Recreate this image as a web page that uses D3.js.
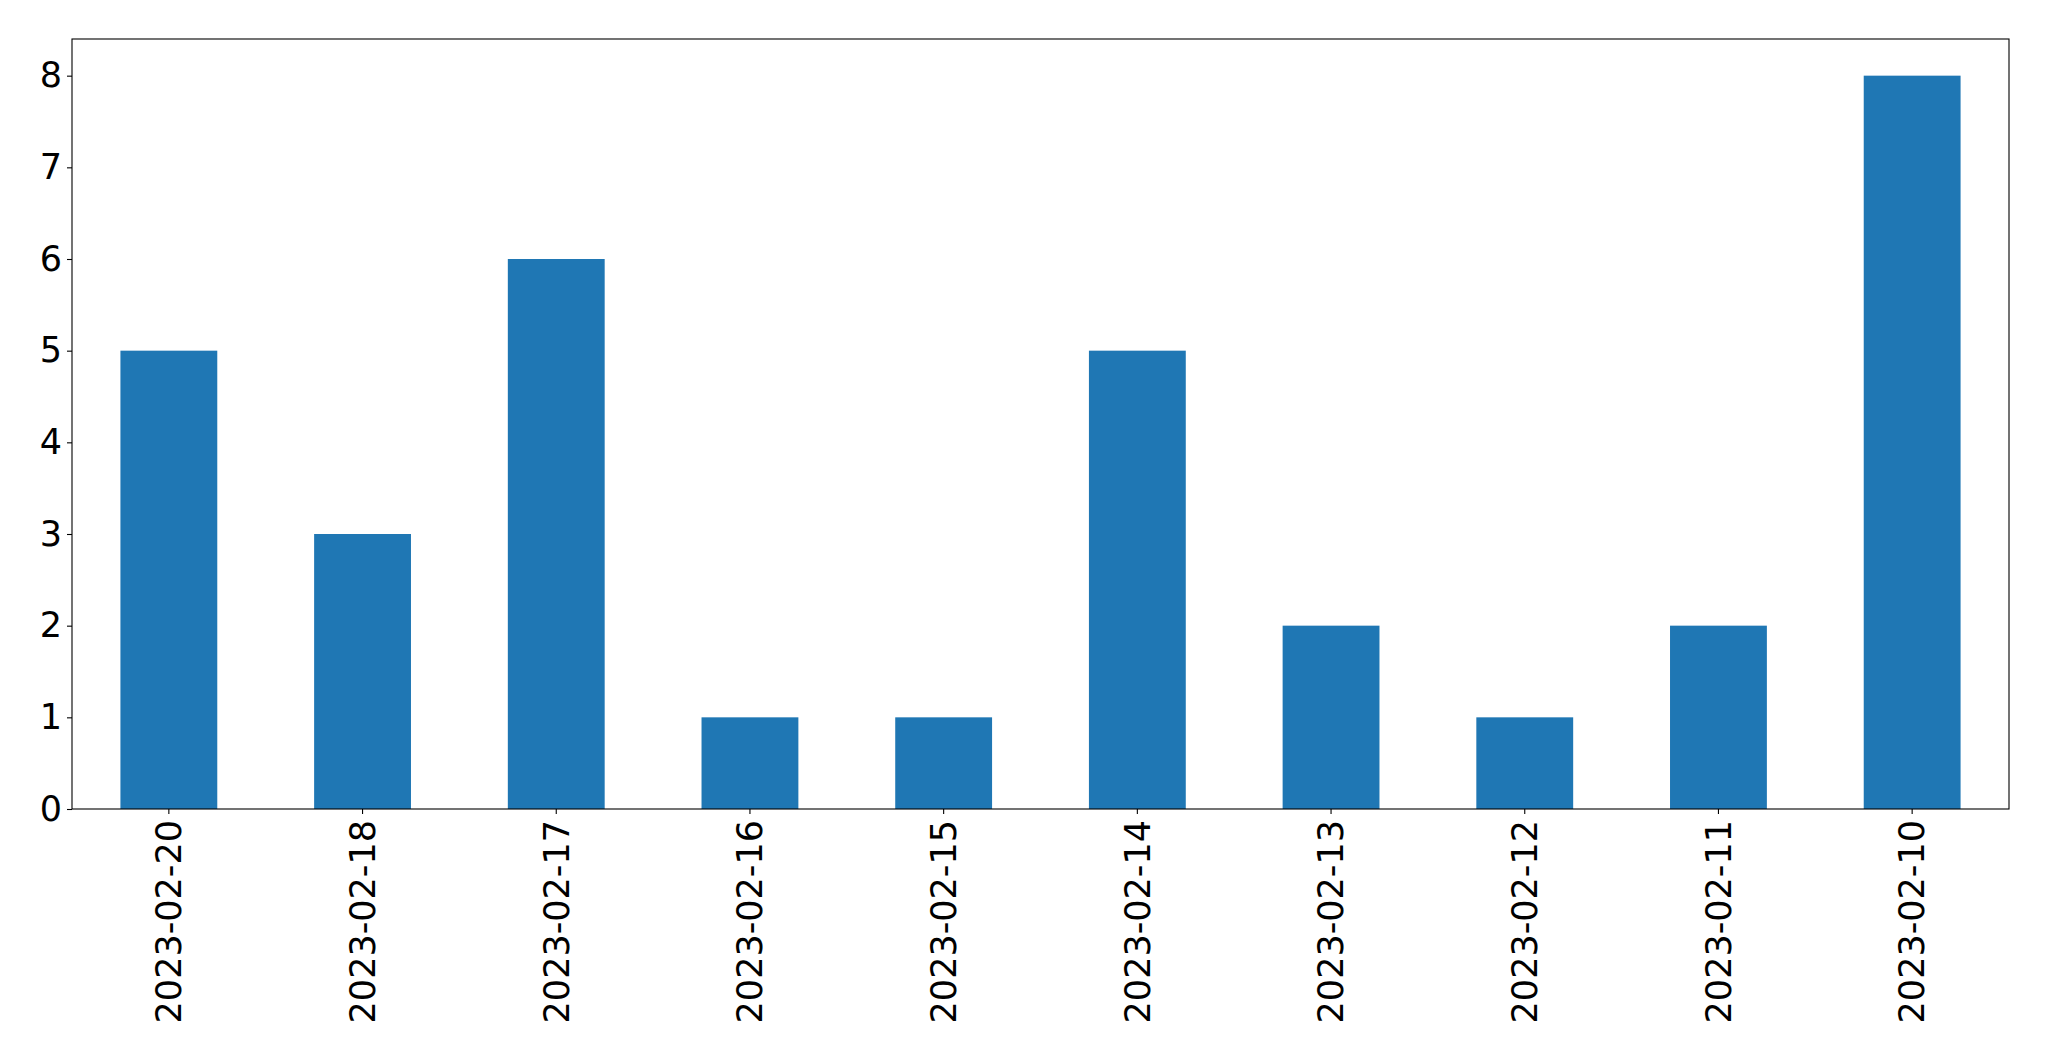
<!DOCTYPE html>
<html>
<head>
<meta charset="utf-8">
<script src="https://cdn.jsdelivr.net/npm/d3@7"></script>
<style>
  html, body { margin: 0; padding: 0; background: #fff; }
  svg { display: block; }
  text { font-family: "DejaVu Sans", sans-serif; }
</style>
</head>
<body>
<script>
const categories = ["2023-02-20","2023-02-18","2023-02-17","2023-02-16","2023-02-15","2023-02-14","2023-02-13","2023-02-12","2023-02-11","2023-02-10"];
const values = [5, 3, 6, 1, 1, 5, 2, 1, 2, 8];
const yTicks = [0, 1, 2, 3, 4, 5, 6, 7, 8];

const W = 2049, H = 1061;
const m = { left: 72, right: 2049 - 2009, top: 39, bottom: 1061 - 809 };
const iw = W - m.left - m.right, ih = H - m.top - m.bottom;

const svg = d3.select("body").append("svg").attr("width", W).attr("height", H);
const g = svg.append("g").attr("transform", `translate(${m.left},${m.top})`);

const x = d3.scaleBand().domain(categories).range([0, iw]).paddingInner(0.5).paddingOuter(0.25);
const y = d3.scaleLinear().domain([0, 8.4]).range([ih, 0]);

g.selectAll("rect.bar").data(values).join("rect")
  .attr("class", "bar")
  .attr("x", (d, i) => x(categories[i]))
  .attr("y", d => y(d))
  .attr("width", x.bandwidth())
  .attr("height", d => y(0) - y(d))
  .attr("fill", "#1f77b4");

const fs = 35;
const yAxis = g.append("g").call(d3.axisLeft(y).tickValues(yTicks).tickFormat(d3.format("d")).tickSize(5).tickPadding(5));
yAxis.select(".domain").remove();
yAxis.selectAll("text").attr("font-size", fs).attr("fill", "#000").attr("font-family", "DejaVu Sans");
yAxis.selectAll("line").attr("stroke", "#000").attr("stroke-width", 1.1);

const xAxis = g.append("g").attr("transform", `translate(0,${ih})`)
  .call(d3.axisBottom(x).tickSize(5).tickPadding(5));
xAxis.select(".domain").remove();
xAxis.selectAll("line").attr("stroke", "#000").attr("stroke-width", 1.1);
xAxis.selectAll("text")
  .attr("font-size", fs).attr("fill", "#000").attr("font-family", "DejaVu Sans")
  .attr("text-anchor", "end")
  .attr("transform", "rotate(-90)")
  .attr("x", -11).attr("y", 0).attr("dy", "0.35em");

g.append("rect").attr("x", 0).attr("y", 0).attr("width", iw).attr("height", ih)
  .attr("fill", "none").attr("stroke", "#000").attr("stroke-width", 1.1);
</script>
</body>
</html>
